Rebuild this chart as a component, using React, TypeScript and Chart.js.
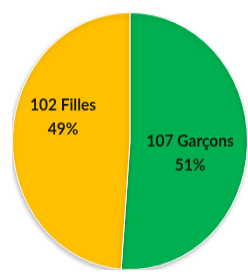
import React, { useEffect, useRef } from "react";
import { Chart, registerables } from "chart.js";

Chart.register(...registerables);

const categories = ["Garçons", "Filles"];
const counts = [107, 102];
const percentLabels = ["51%", "49%"];
const colors = ["#00B050", "#FFC000"];

// label placement: [angle offset in degrees from slice middle, radius fraction]
const labelPlacement = [
  [8, 0.52],
  [16, 0.6],
];

const labelPlugin = {
  id: "sliceLabels",
  beforeDatasetsDraw(chart: any) {
    const ctx = chart.ctx;
    ctx.save();
    ctx.shadowColor = "rgba(0,0,0,0.28)";
    ctx.shadowBlur = 4;
    ctx.shadowOffsetX = -1;
    ctx.shadowOffsetY = 2;
  },
  afterDatasetsDraw(chart: any) {
    const ctx = chart.ctx;
    ctx.restore();
    const meta = chart.getDatasetMeta(0);
    ctx.save();
    ctx.fillStyle = "#1a1a10";
    ctx.font = "bold 15.5px Lato";
    ctx.textAlign = "center";
    ctx.textBaseline = "middle";
    meta.data.forEach((arc: any, i: number) => {
      const p = arc.getProps(["x", "y", "startAngle", "endAngle", "outerRadius"], true);
      const [off, frac] = labelPlacement[i];
      const mid = (p.startAngle + p.endAngle) / 2 + (off * Math.PI) / 180;
      const r = p.outerRadius * frac;
      const cx = p.x + Math.cos(mid) * r;
      const cy = p.y + Math.sin(mid) * r;
      ctx.fillText(`${counts[i]} ${categories[i]}`, cx, cy - 11);
      ctx.fillText(percentLabels[i], cx, cy + 11);
    });
    ctx.restore();
  },
};

export default function App() {
  const ref = useRef<HTMLCanvasElement>(null);
  useEffect(() => {
    if (!ref.current) return;
    const chart = new Chart(ref.current, {
      type: "pie",
      data: {
        labels: categories,
        datasets: [
          {
            data: counts,
            backgroundColor: colors,
            borderColor: "#ffffff",
            borderWidth: 1,
          },
        ],
      },
      options: {
        animation: false,
        responsive: true,
        maintainAspectRatio: false,
        layout: { padding: 0 },
        plugins: {
          legend: { display: false },
          tooltip: { enabled: false },
        },
      },
      plugins: [labelPlugin],
    });
    return () => chart.destroy();
  }, []);
  return (
    <div
      style={{
        position: "absolute",
        left: 12,
        top: 12,
        width: 236,
        height: 236,
        transform: "scaleY(1.094)",
        transformOrigin: "top left",
      }}
    >
      <canvas ref={ref} />
    </div>
  );
}
